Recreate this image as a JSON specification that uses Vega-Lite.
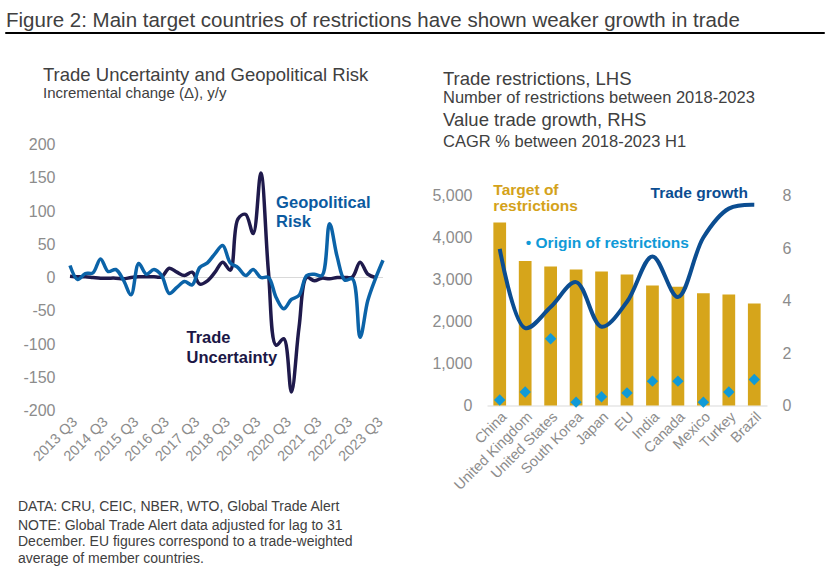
{
  "$schema": "https://vega.github.io/schema/vega-lite/v6.json",
  "background": "white",
  "padding": {"left": 4, "top": 10, "right": 0, "bottom": 0},
  "config": {
    "font": "Liberation Sans",
    "view": {"stroke": null},
    "axis": {"domain": false, "ticks": false, "tickSize": 0, "grid": false, "labelColor": "#8c8c8c", "labelFontSize": 16, "labelPadding": 14, "labelOverlap": false},
    "axisX": {"labelFontSize": 14.5, "labelAngle": -45, "labelPadding": 4},
    "title": {"color": "#404040", "subtitleColor": "#404040", "fontWeight": "normal", "anchor": "start"}
  },
  "columns": 1,
  "align": "none",
  "spacing": 31.5,
  "concat": [
    {
      "width": 819,
      "height": 1,
      "data": {"values": []},
      "mark": "point",
      "encoding": {},
      "view": {"stroke": "#000000", "strokeWidth": 1},
      "title": {"text": "Figure 2: Main target countries of restrictions have shown weaker growth in trade", "frame": "group", "dx": 1, "fontSize": 20.5, "offset": 1}
    },
    {
      "columns": 2,
      "align": "none",
      "spacing": 0,
      "title": {"text": "DATA: CRU, CEIC, NBER, WTO, Global Trade Alert", "subtitle": ["NOTE: Global Trade Alert data adjusted for lag to 31", "December. EU figures correspond to a trade-weighted", "average of member countries."], "orient": "bottom", "frame": "bounds", "dx": 13, "fontSize": 14, "subtitleFontSize": 14, "subtitleLineHeight": 16.5, "subtitlePadding": 5, "offset": 8},
      "concat": [
        {
          "width": 380,
          "height": 215,
          "title": {"text": "Trade Uncertainty and Geopolitical Risk", "subtitle": "Incremental change (Δ), y/y", "frame": "group", "dx": 38, "fontSize": 18.5, "subtitleFontSize": 15, "subtitlePadding": 1, "offset": 36},
          "data": {"values": [
            {"q": "2013 Q3", "gr": 18, "tu": 2},
            {"q": "2013 Q4", "gr": -3, "tu": 1},
            {"q": "2014 Q1", "gr": 6, "tu": 1},
            {"q": "2014 Q2", "gr": 7, "tu": 0},
            {"q": "2014 Q3", "gr": 28, "tu": -1},
            {"q": "2014 Q4", "gr": 9, "tu": -1},
            {"q": "2015 Q1", "gr": 12, "tu": -1},
            {"q": "2015 Q2", "gr": -4, "tu": -2},
            {"q": "2015 Q3", "gr": -26, "tu": 0},
            {"q": "2015 Q4", "gr": 21, "tu": 1},
            {"q": "2016 Q1", "gr": 5, "tu": 1},
            {"q": "2016 Q2", "gr": 12, "tu": 1},
            {"q": "2016 Q3", "gr": 3, "tu": 1},
            {"q": "2016 Q4", "gr": -24, "tu": 14},
            {"q": "2017 Q1", "gr": -15, "tu": 8},
            {"q": "2017 Q2", "gr": -6, "tu": 3},
            {"q": "2017 Q3", "gr": -11, "tu": 8},
            {"q": "2017 Q4", "gr": 15, "tu": -10},
            {"q": "2018 Q1", "gr": 22, "tu": -5},
            {"q": "2018 Q2", "gr": 36, "tu": 8},
            {"q": "2018 Q3", "gr": 48, "tu": 23},
            {"q": "2018 Q4", "gr": 22, "tu": 11},
            {"q": "2019 Q1", "gr": 15, "tu": 88},
            {"q": "2019 Q2", "gr": 3, "tu": 95},
            {"q": "2019 Q3", "gr": 12, "tu": 66},
            {"q": "2019 Q4", "gr": 0, "tu": 157},
            {"q": "2020 Q1", "gr": 0, "tu": 8},
            {"q": "2020 Q2", "gr": -30, "tu": -102},
            {"q": "2020 Q3", "gr": -47, "tu": -92},
            {"q": "2020 Q4", "gr": -33, "tu": -172},
            {"q": "2021 Q1", "gr": -27, "tu": -75},
            {"q": "2021 Q2", "gr": 3, "tu": 0},
            {"q": "2021 Q3", "gr": 5, "tu": -5},
            {"q": "2021 Q4", "gr": 3, "tu": -1},
            {"q": "2022 Q1", "gr": 81, "tu": -2},
            {"q": "2022 Q2", "gr": 31, "tu": 0},
            {"q": "2022 Q3", "gr": -4, "tu": 0},
            {"q": "2022 Q4", "gr": -2, "tu": 1},
            {"q": "2023 Q1", "gr": -90, "tu": 23},
            {"q": "2023 Q2", "gr": -35, "tu": 5},
            {"q": "2023 Q3", "gr": -2, "tu": 0},
            {"q": "2023 Q4", "gr": 26, "tu": null}
          ]},
          "layer": [
            {
              "data": {"values": [{}]},
              "mark": {"type": "rule", "color": "#d9d9d9", "strokeWidth": 1},
              "encoding": {
                "x": {"datum": "2013 Q3", "type": "ordinal", "scale": {"type": "point", "padding": 0, "range": [65, 378]},
                      "axis": {"title": null, "values": ["2013 Q3", "2014 Q3", "2015 Q3", "2016 Q3", "2017 Q3", "2018 Q3", "2019 Q3", "2020 Q3", "2021 Q3", "2022 Q3", "2023 Q3"]}},
                "x2": {"datum": "2023 Q4"},
                "y": {"datum": 0, "type": "quantitative", "scale": {"domain": [-200, 200], "nice": false, "range": [215, -51]},
                      "axis": {"title": null, "values": [-200, -150, -100, -50, 0, 50, 100, 150, 200], "labelExpr": "'' + datum.value", "offset": -64}}}
            },
            {
              "mark": {"type": "line", "color": "#1f1a4c", "strokeWidth": 3.5, "interpolate": "catmull-rom"},
              "encoding": {
                "x": {"field": "q", "type": "ordinal", "scale": {"type": "point", "padding": 0, "range": [65, 378]},
                      "axis": {"title": null, "values": ["2013 Q3", "2014 Q3", "2015 Q3", "2016 Q3", "2017 Q3", "2018 Q3", "2019 Q3", "2020 Q3", "2021 Q3", "2022 Q3", "2023 Q3"]}},
                "y": {"field": "tu", "type": "quantitative", "scale": {"domain": [-200, 200], "nice": false, "range": [215, -51]},
                      "axis": {"title": null, "values": [-200, -150, -100, -50, 0, 50, 100, 150, 200], "labelExpr": "'' + datum.value", "offset": -64}}
              }
            },
            {
              "mark": {"type": "line", "color": "#0b63a8", "strokeWidth": 3.5, "interpolate": "catmull-rom"},
              "encoding": {
                "x": {"field": "q", "type": "ordinal", "scale": {"type": "point", "padding": 0, "range": [65, 378]},
                      "axis": {"title": null, "values": ["2013 Q3", "2014 Q3", "2015 Q3", "2016 Q3", "2017 Q3", "2018 Q3", "2019 Q3", "2020 Q3", "2021 Q3", "2022 Q3", "2023 Q3"]}},
                "y": {"field": "gr", "type": "quantitative", "scale": {"domain": [-200, 200], "nice": false, "range": [215, -51]},
                      "axis": {"title": null, "values": [-200, -150, -100, -50, 0, 50, 100, 150, 200], "labelExpr": "'' + datum.value", "offset": -64}}
              }
            },
            {
              "data": {"values": [{}]},
              "mark": {"type": "text", "text": ["Geopolitical", "Risk"], "align": "left", "baseline": "alphabetic", "fontSize": 16.5, "fontWeight": "bold", "color": "#0b5aa0", "lineHeight": 19.5},
              "encoding": {
                "x": {"datum": "2020 Q2", "type": "ordinal", "scale": {"type": "point", "padding": 0, "range": [65, 378]},
                      "axis": {"title": null, "values": ["2013 Q3", "2014 Q3", "2015 Q3", "2016 Q3", "2017 Q3", "2018 Q3", "2019 Q3", "2020 Q3", "2021 Q3", "2022 Q3", "2023 Q3"]}},
                "y": {"datum": 105, "type": "quantitative", "scale": {"domain": [-200, 200], "nice": false, "range": [215, -51]},
                      "axis": {"title": null, "values": [-200, -150, -100, -50, 0, 50, 100, 150, 200], "labelExpr": "'' + datum.value", "offset": -64}}}
            },
            {
              "data": {"values": [{}]},
              "mark": {"type": "text", "text": ["Trade", "Uncertainty"], "align": "left", "baseline": "alphabetic", "fontSize": 16.5, "fontWeight": "bold", "color": "#1b1746", "lineHeight": 19.5, "dx": 2},
              "encoding": {
                "x": {"datum": "2017 Q2", "type": "ordinal", "scale": {"type": "point", "padding": 0, "range": [65, 378]},
                      "axis": {"title": null, "values": ["2013 Q3", "2014 Q3", "2015 Q3", "2016 Q3", "2017 Q3", "2018 Q3", "2019 Q3", "2020 Q3", "2021 Q3", "2022 Q3", "2023 Q3"]}},
                "y": {"datum": -99, "type": "quantitative", "scale": {"domain": [-200, 200], "nice": false, "range": [215, -51]},
                      "axis": {"title": null, "values": [-200, -150, -100, -50, 0, 50, 100, 150, 200], "labelExpr": "'' + datum.value", "offset": -64}}}
            }
          ]
        },
        {
          "title": {"text": "Trade restrictions, LHS", "subtitle": "Number of restrictions between 2018-2023", "frame": "group", "dx": -44, "fontSize": 18.5, "subtitleFontSize": 16.5, "subtitlePadding": 1.1, "offset": 4.8},
          "vconcat": [
            {
              "width": 280,
              "height": 210,
              "title": {"text": "Value trade growth, RHS", "subtitle": "CAGR % between 2018-2023 H1", "frame": "group", "dx": -44, "fontSize": 18.5, "subtitleFontSize": 16.5, "subtitlePadding": 5, "offset": 31.8},
              "data": {"values": [
                {"country": "China", "target": 4360, "origin": 130, "growth": 5.97},
                {"country": "United Kingdom", "target": 3440, "origin": 320, "growth": 2.95},
                {"country": "United States", "target": 3310, "origin": 1590, "growth": 3.75},
                {"country": "South Korea", "target": 3240, "origin": 80, "growth": 4.7},
                {"country": "Japan", "target": 3190, "origin": 210, "growth": 3.0},
                {"country": "EU", "target": 3120, "origin": 300, "growth": 3.95},
                {"country": "India", "target": 2860, "origin": 580, "growth": 5.68},
                {"country": "Canada", "target": 2830, "origin": 580, "growth": 4.13},
                {"country": "Mexico", "target": 2670, "origin": 80, "growth": 6.4},
                {"country": "Turkey", "target": 2640, "origin": 320, "growth": 7.5},
                {"country": "Brazil", "target": 2430, "origin": 620, "growth": 7.65}
              ]},
              "encoding": {
                "x": {"field": "country", "type": "nominal",
                      "scale": {"domain": ["China", "United Kingdom", "United States", "South Korea", "Japan", "EU", "India", "Canada", "Mexico", "Turkey", "Brazil"], "paddingInner": 0.5, "paddingOuter": 0.25},
                      "axis": {"title": null, "domain": true, "domainColor": "#d9d9d9", "domainWidth": 1}}
              },
              "layer": [
                {
                  "mark": {"type": "bar", "color": "#d6a51b"},
                  "encoding": {"y": {"field": "target", "type": "quantitative", "scale": {"domain": [0, 5000]},
                                     "axis": {"title": null, "orient": "left", "values": [0, 1000, 2000, 3000, 4000, 5000], "labelExpr": "format(datum.value, ',')", "labelPadding": 15, "minExtent": 97}}}
                },
                {
                  "mark": {"type": "point", "shape": "diamond", "filled": true, "size": 130, "color": "#109ad7", "opacity": 1},
                  "encoding": {"y": {"field": "origin", "type": "quantitative", "scale": {"domain": [0, 5000]}, "axis": null}}
                },
                {
                  "mark": {"type": "line", "color": "#0b4d91", "strokeWidth": 4, "interpolate": "catmull-rom"},
                  "encoding": {"y": {"field": "growth", "type": "quantitative", "scale": {"domain": [0, 8]},
                                     "axis": {"title": null, "orient": "right", "values": [0, 2, 4, 6, 8], "labelExpr": "'' + datum.value", "labelPadding": 15}}}
                },
                {
                  "data": {"values": [{}]},
                  "mark": {"type": "text", "text": ["Target of", "restrictions"], "align": "left", "baseline": "alphabetic", "fontSize": 15.5, "fontWeight": "bold", "color": "#d4a21a", "lineHeight": 16.5},
                  "encoding": {"x": {"datum": "China", "type": "nominal", "bandPosition": 0}, "y": {"datum": 5020, "type": "quantitative", "scale": {"domain": [0, 5000]}, "axis": null}}
                },
                {
                  "data": {"values": [{}]},
                  "mark": {"type": "text", "text": "Trade growth", "align": "right", "baseline": "alphabetic", "fontSize": 15.5, "fontWeight": "bold", "color": "#0b4d91"},
                  "encoding": {"x": {"datum": "Brazil", "type": "nominal", "bandPosition": 0}, "y": {"datum": 4950, "type": "quantitative", "scale": {"domain": [0, 5000]}, "axis": null}}
                },
                {
                  "data": {"values": [{}]},
                  "mark": {"type": "text", "text": "• Origin of restrictions", "align": "left", "baseline": "alphabetic", "fontSize": 15.5, "fontWeight": "bold", "color": "#109ad7"},
                  "encoding": {"x": {"datum": "United Kingdom", "type": "nominal", "bandPosition": 0.55}, "y": {"datum": 3740, "type": "quantitative", "scale": {"domain": [0, 5000]}, "axis": null}}
                }
              ],
              "resolve": {"scale": {"y": "independent"}}
            }
          ]
        }
      ]
    }
  ]
}
